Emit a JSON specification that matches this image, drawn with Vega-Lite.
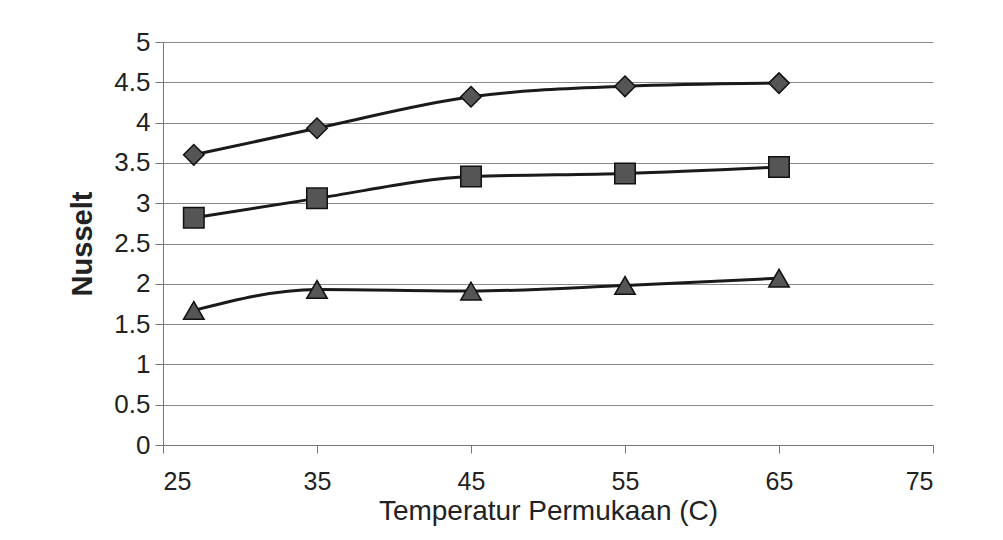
{
  "$schema": "https://vega.github.io/schema/vega-lite/v6.json",
  "width": 770,
  "height": 403,
  "autosize": {"type": "none"},
  "padding": {"left": 163, "top": 42, "right": 70, "bottom": 95},
  "background": "white",
  "config": {
    "view": {"stroke": null},
    "font": "Liberation Sans",
    "axis": {
      "labelFont": "Liberation Sans",
      "titleFont": "Liberation Sans",
      "labelColor": "#222",
      "titleColor": "#222",
      "domainColor": "#777",
      "tickColor": "#777",
      "gridColor": "#8a8a8a",
      "gridWidth": 1,
      "tickSize": 8
    }
  },
  "data": {
    "values": [
      {"T": 27, "Nu": 3.6, "seri": "A"},
      {"T": 35, "Nu": 3.93, "seri": "A"},
      {"T": 45, "Nu": 4.32, "seri": "A"},
      {"T": 55, "Nu": 4.45, "seri": "A"},
      {"T": 65, "Nu": 4.49, "seri": "A"},
      {"T": 27, "Nu": 2.82, "seri": "B"},
      {"T": 35, "Nu": 3.06, "seri": "B"},
      {"T": 45, "Nu": 3.33, "seri": "B"},
      {"T": 55, "Nu": 3.37, "seri": "B"},
      {"T": 65, "Nu": 3.45, "seri": "B"},
      {"T": 27, "Nu": 1.67, "seri": "C"},
      {"T": 35, "Nu": 1.93, "seri": "C"},
      {"T": 45, "Nu": 1.91, "seri": "C"},
      {"T": 55, "Nu": 1.98, "seri": "C"},
      {"T": 65, "Nu": 2.07, "seri": "C"}
    ]
  },
  "encoding": {
    "x": {
      "field": "T",
      "type": "quantitative",
      "scale": {"domain": [25, 75], "nice": false, "zero": false},
      "axis": {
        "values": [25, 35, 45, 55, 65, 75],
        "grid": false,
        "title": "Temperatur Permukaan (C)",
        "labelFontSize": 25,
        "titleFontSize": 28,
        "titleFontWeight": "normal",
        "titlePadding": 3,
        "labelPadding": 16
      }
    },
    "y": {
      "field": "Nu",
      "type": "quantitative",
      "scale": {"domain": [0, 5], "nice": false},
      "axis": {
        "values": [0, 0.5, 1, 1.5, 2, 2.5, 3, 3.5, 4, 4.5, 5],
        "labelExpr": "'' + datum.value",
        "grid": true,
        "title": "Nusselt",
        "labelFontSize": 26,
        "titleFontSize": 29,
        "titleFontWeight": "bold",
        "titlePadding": 16,
        "labelPadding": 5
      }
    }
  },
  "layer": [
    {
      "mark": {"type": "line", "interpolate": "monotone", "color": "#1a1a1a", "strokeWidth": 3},
      "encoding": {"detail": {"field": "seri"}}
    },
    {
      "mark": {"type": "point", "filled": true, "fill": "#555", "stroke": "#111", "strokeWidth": 1.5, "opacity": 1, "size": 420},
      "encoding": {
        "shape": {
          "field": "seri",
          "type": "nominal",
          "scale": {"domain": ["A", "B", "C"], "range": ["diamond", "square", "triangle-up"]},
          "legend": null
        }
      }
    }
  ]
}
